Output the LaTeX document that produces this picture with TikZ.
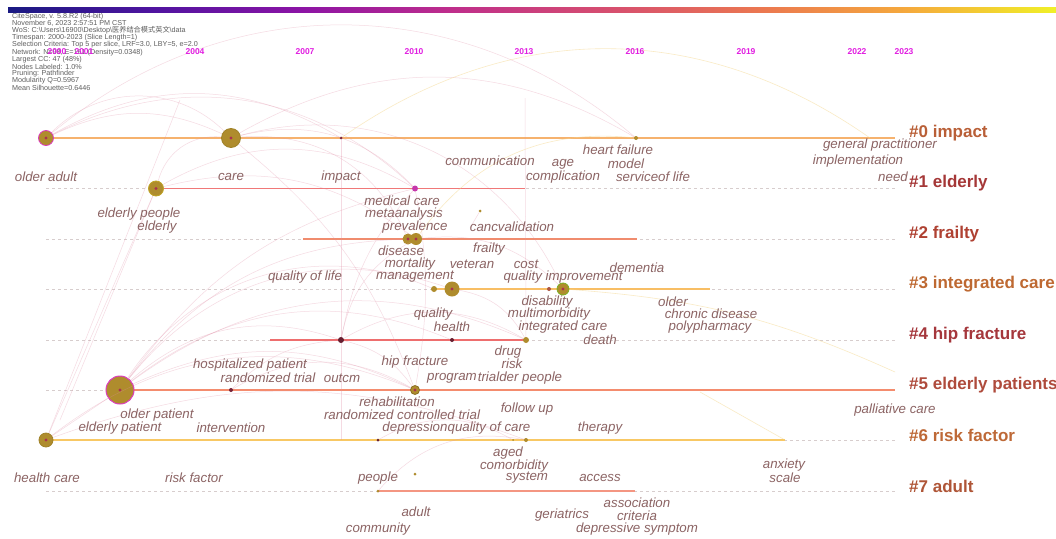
\documentclass[tikz,border=0pt]{standalone}
\usepackage{fontspec}
\setsansfont{Liberation Sans}
\newfontfamily\cjk{Noto Sans CJK SC}
\usetikzlibrary{positioning}

\definecolor{kwcol}{RGB}{140,100,100}
\definecolor{yearcol}{RGB}{225,30,225}
\definecolor{infocol}{RGB}{95,95,95}
\definecolor{linkpink}{RGB}{225,140,165}
\definecolor{linkyel}{RGB}{245,215,140}
\definecolor{nodefill}{RGB}{175,140,45}
\definecolor{nodecore}{RGB}{170,50,80}
\definecolor{ringmag}{RGB}{220,60,190}
\definecolor{ringolive}{RGB}{160,130,40}
\definecolor{rowdashcol}{RGB}{215,205,205}
\definecolor{row0}{RGB}{246,178,110}
\definecolor{row1}{RGB}{240,120,120}
\definecolor{row2}{RGB}{240,140,110}
\definecolor{row3}{RGB}{248,190,100}
\definecolor{row4}{RGB}{238,110,110}
\definecolor{row5}{RGB}{244,140,110}
\definecolor{row6}{RGB}{248,200,100}
\definecolor{row7}{RGB}{244,150,130}
\definecolor{cl0}{RGB}{185,95,55}
\definecolor{cl1}{RGB}{165,55,55}
\definecolor{cl2}{RGB}{175,65,50}
\definecolor{cl3}{RGB}{190,105,50}
\definecolor{cl4}{RGB}{165,55,60}
\definecolor{cl5}{RGB}{175,75,60}
\definecolor{cl6}{RGB}{190,105,55}
\definecolor{cl7}{RGB}{175,85,55}
\definecolor{bar0}{RGB}{25,25,130}
\definecolor{bar1}{RGB}{80,20,160}
\definecolor{bar2}{RGB}{140,20,165}
\definecolor{bar3}{RGB}{190,45,140}
\definecolor{bar4}{RGB}{215,80,110}
\definecolor{bar5}{RGB}{235,120,80}
\definecolor{bar6}{RGB}{245,170,60}
\definecolor{bar7}{RGB}{240,240,40}

\pgfdeclarehorizontalshading{citebar}{100bp}{color(0bp)=(bar0); color(25bp)=(bar0);
  color(32bp)=(bar1); color(39bp)=(bar2); color(46bp)=(bar3); color(54bp)=(bar4);
  color(61bp)=(bar5); color(68bp)=(bar6); color(75bp)=(bar7); color(100bp)=(bar7)}

\tikzset{
  kw/.style={text=kwcol, font=\sffamily\itshape\fontsize{13.3}{14}\selectfont, inner sep=0pt},
  cluster/.style={font=\sffamily\bfseries\fontsize{17}{18}\selectfont, anchor=west, inner sep=0pt},
  year/.style={text=yearcol, font=\sffamily\bfseries\fontsize{8.5}{9}\selectfont, inner sep=0pt},
  info/.style={text=infocol, font=\sffamily\fontsize{7.2}{7.5}\selectfont, anchor=west, inner sep=0pt},
  citenode/.style={circle, fill=nodefill, draw=ringolive, line width=0.8pt, inner sep=0pt,
    path picture={\fill[nodecore] (path picture bounding box.center) circle (1.6pt);}},
  dotnode/.style={circle, fill=#1, inner sep=0pt, minimum size=4pt},
  rowdash/.style={draw=rowdashcol, dashed, line width=0.4pt},
  citelink/.style={draw=linkpink, opacity=0.32, line width=0.5pt},
  yellink/.style={draw=linkyel, opacity=0.5, line width=0.6pt}
}

\begin{document}
\begin{tikzpicture}[x=1pt,y=-1pt]
\useasboundingbox (0,0) rectangle (1056,538);
\fill[white] (0,0) rectangle (1056,538);

% colour bar of the slices
\shade[shading=citebar] (8,7) rectangle (1056,12);

% timeline rows
\foreach \y/\lab/\col [count=\i from 0] in {138/{\#0 impact}/cl0, 188.5/{\#1 elderly}/cl1,
    239/{\#2 frailty}/cl2, 289/{\#3 integrated care}/cl3, 340/{\#4 hip fracture}/cl4,
    390/{\#5 elderly patients}/cl5, 440/{\#6 risk factor}/cl6, 491/{\#7 adult}/cl7}{
  \node[cluster, text=\col] (c\i) at (909,\y-5) {\lab};
  \coordinate (r\i) at (46,\y);
  \draw[rowdash] (r\i) -- (895,\y);
}

\draw[row0, line width=1.8pt] (46,138) -- (895,138);
\draw[row1, line width=1.8pt] (156,188.5) -- (525,188.5);
\draw[row2, line width=1.8pt] (303,239) -- (637,239);
\draw[row3, line width=1.8pt] (434,289) -- (710,289);
\draw[row4, line width=1.8pt] (270,340) -- (527,340);
\draw[row5, line width=1.8pt] (120,390) -- (895,390);
\draw[row6, line width=1.8pt] (46,440) -- (785,440);
\draw[row7, line width=1.8pt] (378,491) -- (635,491);

% free ends of links
\coordinate (e1) at (341,440);
\coordinate (e2) at (525,98);
\coordinate (e3) at (895,372);
\coordinate (e4) at (700,392);
\coordinate (e5) at (785,440);
\coordinate (e6) at (870,138);
\coordinate (e7) at (180,100);
\coordinate (e8) at (60,420);
\coordinate (e9) at (470,228);

% nodes
\node[citenode, draw=ringmag, minimum size=15pt] (n-olderadult) at (46,138) {};
\node[citenode, minimum size=19pt] (n-care) at (231,138) {};
\node[dotnode=nodecore!70!black, minimum size=3pt] (n-impact) at (341,138) {};
\node[dotnode=nodefill, minimum size=4pt] (n-heart) at (636,138) {};
\node[citenode, draw=nodefill!80!yellow, minimum size=15pt] (n-elderly) at (156,188.5) {};
\node[dotnode=ringmag!90!black, minimum size=6pt] (n-medcare) at (415,188.5) {};
\node[dotnode=nodefill, minimum size=3pt] (n-canc) at (480,211) {};
\node[citenode, draw=none, minimum size=11pt] (n-disease) at (408,239) {};
\node[citenode, draw=none, minimum size=12pt] (n-prev) at (416,239) {};
\node[dotnode=nodefill, minimum size=6pt] (n-mgmt) at (434,289) {};
\node[citenode, draw=none, minimum size=15pt] (n-veteran) at (452,289) {};
\node[dotnode=nodecore!60!nodefill, minimum size=4pt] (n-cost) at (549,289) {};
\node[citenode, draw=nodefill!70!green, minimum size=12pt] (n-qi) at (563,289) {};
\node[dotnode=nodecore!60!black, minimum size=6pt] (n-hip) at (341,340) {};
\node[dotnode=nodecore!60!black, minimum size=4pt] (n-health) at (452,340) {};
\node[dotnode=nodefill, minimum size=6pt] (n-death) at (526,340) {};
\node[citenode, draw=ringmag, line width=1pt, minimum size=28pt] (n-op) at (120,390) {};
\node[dotnode=nodecore!70!black, minimum size=4pt] (n-rt) at (231,390) {};
\node[citenode, draw=nodefill!80!black, minimum size=9pt] (n-rehab) at (415,390) {};
\node[citenode, minimum size=14pt] (n-hc) at (46,440) {};
\node[dotnode=nodecore!60!black, minimum size=3pt] (n-int) at (378,440) {};
\node[dotnode=nodefill, minimum size=2pt] (n-qoc) at (513,440) {};
\node[dotnode=nodefill, minimum size=4pt] (n-aged) at (526,440) {};
\node[dotnode=nodefill, minimum size=3pt] (n-adult) at (415,474) {};
\node[dotnode=nodefill, minimum size=3pt] (n-people) at (378,491) {};

% citation links
\draw[citelink] (n-olderadult) to[bend left=25] (n-care);
\draw[citelink] (n-olderadult) to[bend left=45] (n-care);
\draw[citelink] (n-olderadult) to[bend left=30] (n-impact);
\draw[citelink] (n-olderadult) to[bend left=35] (n-medcare);
\draw[citelink] (n-olderadult) to[bend left=40] (n-heart);
\draw[citelink] (n-care) to[bend left=30] (n-medcare);
\draw[citelink] (n-care) to[bend left=35] (n-disease);
\draw[citelink] (n-care) to[bend left=30] (n-heart);
\draw[citelink] (n-care) to[bend left=40] (n-qi);
\draw[citelink] (n-care) to[bend left=15] (n-rehab);
\draw[citelink] (n-elderly) to[bend left=40] (n-care);
\draw[citelink] (n-elderly) to[bend left=30] (n-medcare);
\draw[citelink] (n-elderly) to[bend left=25] (n-prev);
\draw[citelink] (n-op) to[bend left=30] (n-hip);
\draw[citelink] (n-op) to[bend left=25] (n-rehab);
\draw[citelink] (n-op) to[bend left=35] (n-veteran);
\draw[citelink] (n-op) to[bend left=30] (n-death);
\draw[citelink] (n-op) to[bend left=30] (n-health);
\draw[citelink] (n-op) to[bend left=20] (n-medcare);
\draw[citelink] (n-op) to[bend left=25] (n-disease);
\draw[citelink] (n-op) to[bend left=40] (n-mgmt);
\draw[citelink] (n-hc) -- (n-op);
\draw[citelink] (n-hc) -- (n-elderly);
\draw[citelink] (n-hc) -- (e7);
\draw[citelink] (n-hc) to[bend left=30] (n-rehab);
\draw[citelink] (n-hc) to[bend left=20] (n-aged);
\draw[citelink] (n-hip) to[bend left=20] (n-rehab);
\draw[citelink] (n-hip) to[bend left=30] (n-death);
\draw[citelink] (n-hip) to[bend left=15] (n-medcare);
\draw[citelink] (n-hip) to[bend left=25] (n-prev);
\draw[citelink] (n-rt) to[bend left=20] (n-hip);
\draw[citelink] (n-rt) to[bend left=30] (n-rehab);
\draw[citelink] (n-rehab) to[bend right=10] (n-medcare);
\draw[citelink] (n-veteran) to[bend left=25] (n-death);
\draw[citelink] (n-prev) to[bend left=25] (n-qi);
\draw[citelink] (n-people) to[bend left=30] (n-aged);
\draw[citelink] (n-int) to[bend left=30] (n-qoc);
\draw[citelink] (n-impact) -- (n-hip);
\draw[citelink] (n-hip) -- (e1);
\draw[citelink] (e2) -- (n-death);
\draw[citelink] (n-elderly) -- (e8);
\draw[citelink] (n-canc) -- (e9);
\draw[yellink] (n-qi) to[bend left=10] (e3);
\draw[yellink] (e4) -- (e5);
\draw[yellink] (n-impact) to[bend left=35] (e6);
\draw[yellink] (n-prev) to[bend left=30] (n-heart);

% keyword labels
\foreach \x/\y/\t [count=\k] in {
  46/177/older adult, 231/177/care, 341/177/impact, 490/161/communication,
  563/164/age, 563/177/complication, 618/150/heart failure, 626/164/model,
  653/177/serviceof life, 880/145/general practitioner, 858/161/implementation,
  893/177/need,
  139/214/elderly people, 157/227/elderly, 402/201/medical care, 404/214/metaanalysis,
  415/227/prevalence, 512/227/cancvalidation,
  401/251/disease, 489/249/frailty, 410/264/mortality, 472/264/veteran, 526/264/cost,
  415/277/management, 305/277/quality of life, 563/277/quality improvement, 637/268/dementia,
  547/302/disability, 549/314/multimorbidity, 563/327/integrated care, 673/302/older,
  711/314/chronic disease, 710/327/polypharmacy, 433/314/quality, 452/327/health,
  600/340/death, 508/352/drug, 512/364/risk, 415/362/hip fracture,
  250/365/hospitalized patient, 268/378/randomized trial, 342/378/outcm,
  452/378/program, 520/378/trialder people,
  397/402/rehabilitation, 402/415/randomized controlled trial, 527/409/follow up,
  415/428/depression, 489/428/quality of care, 600/428/therapy,
  157/415/older patient, 120/428/elderly patient, 231/428/intervention,
  895/410/palliative care,
  47/478/health care, 194/478/risk factor, 378/478/people, 508/453/aged,
  514/466/comorbidity, 527/478/system, 600/478/access, 784/465/anxiety, 785/478/scale,
  416/512/adult, 378/529/community, 562/515/geriatrics, 637/503/association,
  637/516/criteria, 637/529/depressive symptom}{
  \node[kw] (kw\k) at (\x,\y) {\t};
}

% run information
\foreach \t [count=\k] in {{CiteSpace, v. 5.8.R2 (64-bit)},
    {November 6, 2023 2:57:51 PM CST},
    {WoS: C:\textbackslash Users\textbackslash 16900\textbackslash Desktop\textbackslash {\cjk 医养结合模式英文}\textbackslash data},
    {Timespan: 2000-2023 (Slice Length=1)},
    {Selection Criteria: Top 5 per slice, LRF=3.0, LBY=5, e=2.0},
    {Network: N=98, E=161 (Density=0.0348)},
    {Largest CC: 47 (48\%)},
    {Nodes Labeled: 1.0\%},
    {Pruning: Pathfinder},
    {Modularity Q=0.5967},
    {Mean Silhouette=0.6446}}{
  \node[info] (info\k) at (12,9+7.2*\k) {\t};
}

% year axis
\foreach \x/\yr in {57/2000, 84/2001, 195/2004, 305/2007, 414/2010, 524/2013,
    635/2016, 746/2019, 857/2022, 904/2023}{
  \node[year] (y\yr) at (\x,52) {\yr};
}

\end{tikzpicture}
\end{document}
